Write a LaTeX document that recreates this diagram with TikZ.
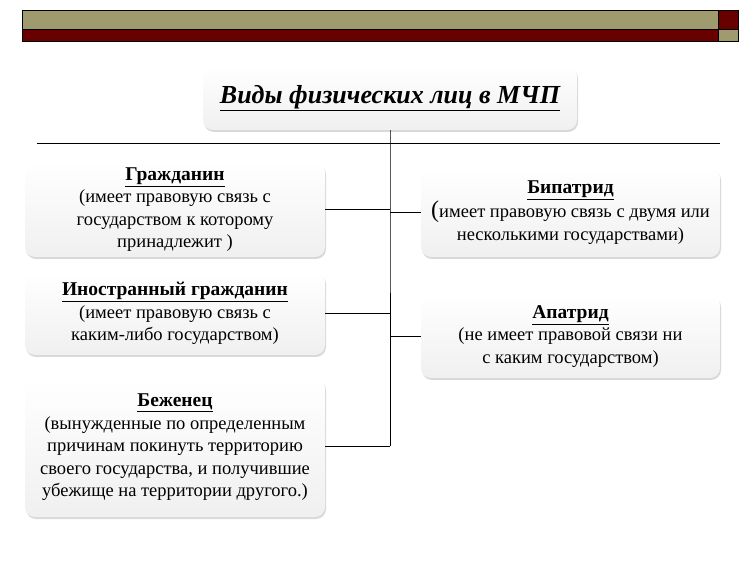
\documentclass[tikz,border=0pt]{standalone}
\usepackage{fontspec}
\setmainfont{Liberation Serif}
\usetikzlibrary{positioning,shadows}
\definecolor{olivebar}{RGB}{160,155,110}
\definecolor{redbar}{RGB}{105,0,0}
\tikzset{
    kind/.style={draw=none, rounded corners=10pt, top color=white, bottom color=black!6,
        drop shadow={opacity=0.3, shadow xshift=1pt, shadow yshift=-2pt},
        align=center, font=\fontsize{18.5}{22.5}\selectfont, inner sep=0pt},
    link/.style={draw=black, line width=0.8pt}
}
\newcommand{\kindhead}[1]{{\fontsize{19.5}{22.5}\selectfont\bfseries\underline{#1}}}
\begin{document}
\begin{tikzpicture}[x=1pt, y=-1pt]
    \useasboundingbox (0,0) rectangle (750,561);
    \fill[olivebar, draw=black, line width=0.4pt] (22,10) rectangle (718,29);
    \fill[redbar, draw=black, line width=0.4pt] (718,10) rectangle (738,29);
    \fill[redbar, draw=black, line width=0.4pt] (22,29) rectangle (718,41);
    \fill[olivebar, draw=black, line width=0.4pt] (718,29) rectangle (738,41);

    \node[kind, minimum width=374pt, minimum height=64pt, font=\fontsize{26}{28}\selectfont\bfseries\itshape] (title) at (390,98) {\underline{Виды физических лиц в МЧП}};

    \node[kind, minimum width=300pt, minimum height=95pt] (citizen) at (175,209.5)
        {\kindhead{Гражданин}\\(имеет правовую связь с\\государством к которому\\принадлежит )};
    \node[kind, minimum width=300pt, minimum height=83pt] (foreign) at (175,313.5)
        {\kindhead{Иностранный гражданин}\\(имеет правовую связь с\\каким-либо государством)};
    \node[kind, minimum width=300pt, minimum height=139pt] (refugee) at (175,447.5)
        {\kindhead{Беженец}\\(вынужденные по определенным\\причинам покинуть территорию\\своего государства, и получившие\\убежище на территории другого.)};
    \node[kind, minimum width=299pt, minimum height=89pt] (bipatrid) at (570.5,212.5)
        {\kindhead{Бипатрид}\\{\fontsize{24}{22.5}\selectfont(}имеет правовую связь с двумя или\\несколькими государствами)};
    \node[kind, minimum width=299pt, minimum height=83pt] (apatrid) at (570.5,336.5)
        {\kindhead{Апатрид}\\(не имеет правовой связи ни\\с каким государством)};

    \coordinate (left) at (37,143);
    \coordinate (right) at (720,143);
    \coordinate (spine) at (390,143);
    \coordinate (spineend) at (390,446);

    \draw[link] (left) -- (right);
    \draw[link] (title) -- (spine) -- (spineend);
    \draw[link] (citizen.east) -- (citizen.east -| spine);
    \draw[link] (foreign.east) -- (foreign.east -| spine);
    \draw[link] (refugee.east |- spineend) -- (spineend);
    \draw[link] (bipatrid.west) -- (bipatrid.west -| spine);
    \draw[link] (apatrid.west) -- (apatrid.west -| spine);
\end{tikzpicture}
\end{document}
